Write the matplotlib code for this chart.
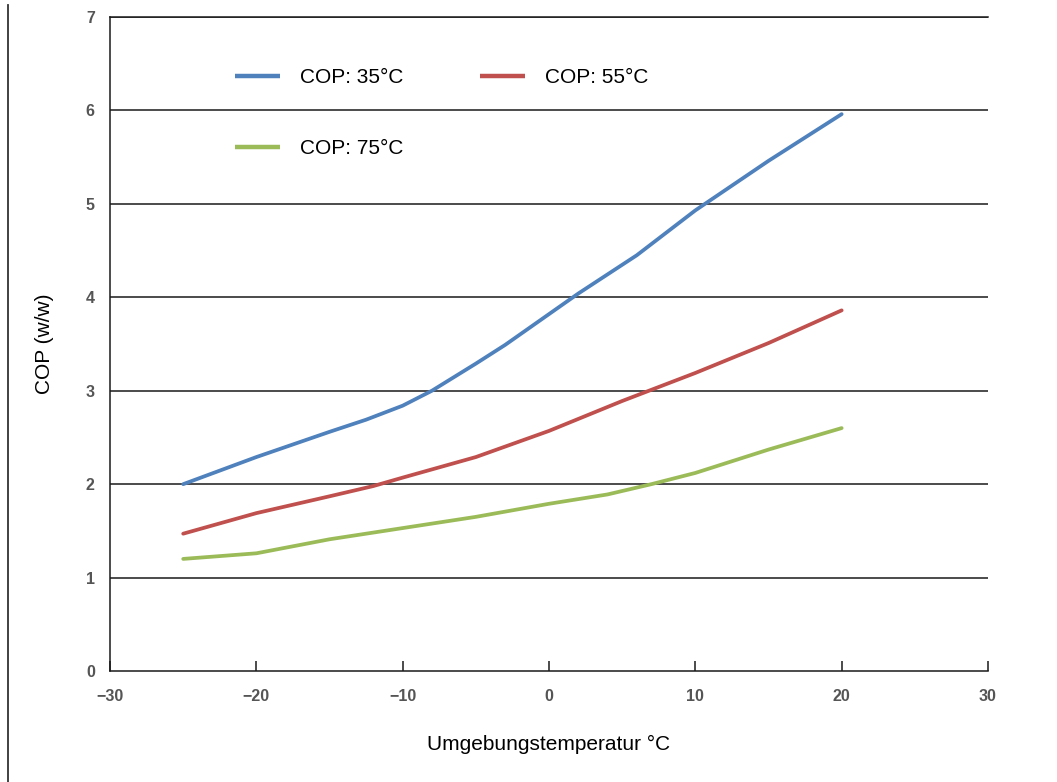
import matplotlib
matplotlib.use("Agg")
import matplotlib.pyplot as plt
from matplotlib.lines import Line2D

plt.rcParams['font.family'] = ['Liberation Sans', 'DejaVu Sans']

# Ambient temperature (°C) and coefficient of performance per flow temperature
temps_35 = [-25, -20, -15, -12.5, -10, -8, -5, -3, 0, 2, 6, 10, 15, 20]
cop_35 = [2.00, 2.29, 2.56, 2.69, 2.84, 3.00, 3.29, 3.49, 3.82, 4.04, 4.45, 4.93, 5.46, 5.96]
temps_55 = [-25, -20, -15, -12, -10, -5, 0, 5, 10, 15, 20]
cop_55 = [1.47, 1.69, 1.87, 1.98, 2.07, 2.29, 2.57, 2.89, 3.19, 3.51, 3.86]
temps_75 = [-25, -20, -15, -10, -5, 0, 4, 7, 10, 15, 20]
cop_75 = [1.20, 1.26, 1.41, 1.53, 1.65, 1.79, 1.89, 2.00, 2.12, 2.37, 2.60]

labels = ['COP: 35°C', 'COP: 55°C', 'COP: 75°C']
colors = ['#4f81bd', '#c0504d', '#9bbb59']

x_ticks = [-30, -20, -10, 0, 10, 20, 30]
x_tick_labels = ['\u221230', '\u221220', '\u221210', '0', '10', '20', '30']
y_ticks = [0, 1, 2, 3, 4, 5, 6, 7]

fig = plt.figure(figsize=(10.57, 7.82), dpi=100)
ax = fig.add_axes([0.1041, 0.1419, 0.8306, 0.8364])

line_kw = dict(lw=2.7, solid_capstyle='round', solid_joinstyle='round')
l35, = ax.plot(temps_35, cop_35, color=colors[0], **line_kw)
l55, = ax.plot(temps_55, cop_55, color=colors[1], **line_kw)
l75, = ax.plot(temps_75, cop_75, color=colors[2], **line_kw)

ax.set_xlim(-30, 30)
ax.set_ylim(0, 7)
ax.set_xticks(x_ticks)
ax.set_xticklabels(x_tick_labels)
ax.set_yticks(y_ticks)

for y in y_ticks[1:]:
    ax.axhline(y, color='#1a1a1a', lw=1.1, zorder=0.5)

ax.spines['right'].set_visible(False)
for s in ['left', 'bottom', 'top']:
    ax.spines[s].set_color('#1a1a1a')
    ax.spines[s].set_linewidth(1.1)

ax.tick_params(axis='x', direction='in', length=7, width=1.1, color='#1a1a1a',
               pad=13, labelsize=11.5, labelcolor='#555555')
ax.tick_params(axis='y', length=0, pad=11, labelsize=11.5, labelcolor='#555555')
for t in ax.get_xticklabels() + ax.get_yticklabels():
    t.set_fontweight('bold')

ax.set_xlabel('Umgebungstemperatur °C', fontsize=15, labelpad=22)
ax.set_ylabel('COP (w/w)', fontsize=15, labelpad=23)

leg = ax.legend([l35, l75, l55], [labels[0], labels[2], labels[1]], ncol=2,
                loc='upper left', bbox_to_anchor=(0.121, 0.950), frameon=False,
                fontsize=15, handlelength=2.16, handletextpad=0.96,
                labelspacing=2.49, columnspacing=3.7)
for h in leg.legend_handles:
    h.set_linewidth(3.2)
    h.set_solid_capstyle('butt')

# thin rule along the left edge of the page
fig.add_artist(Line2D([0.0072, 0.0072], [0.0, 0.994], transform=fig.transFigure,
                      color='#333333', lw=1.3))

fig.savefig('out.png', dpi=100)
